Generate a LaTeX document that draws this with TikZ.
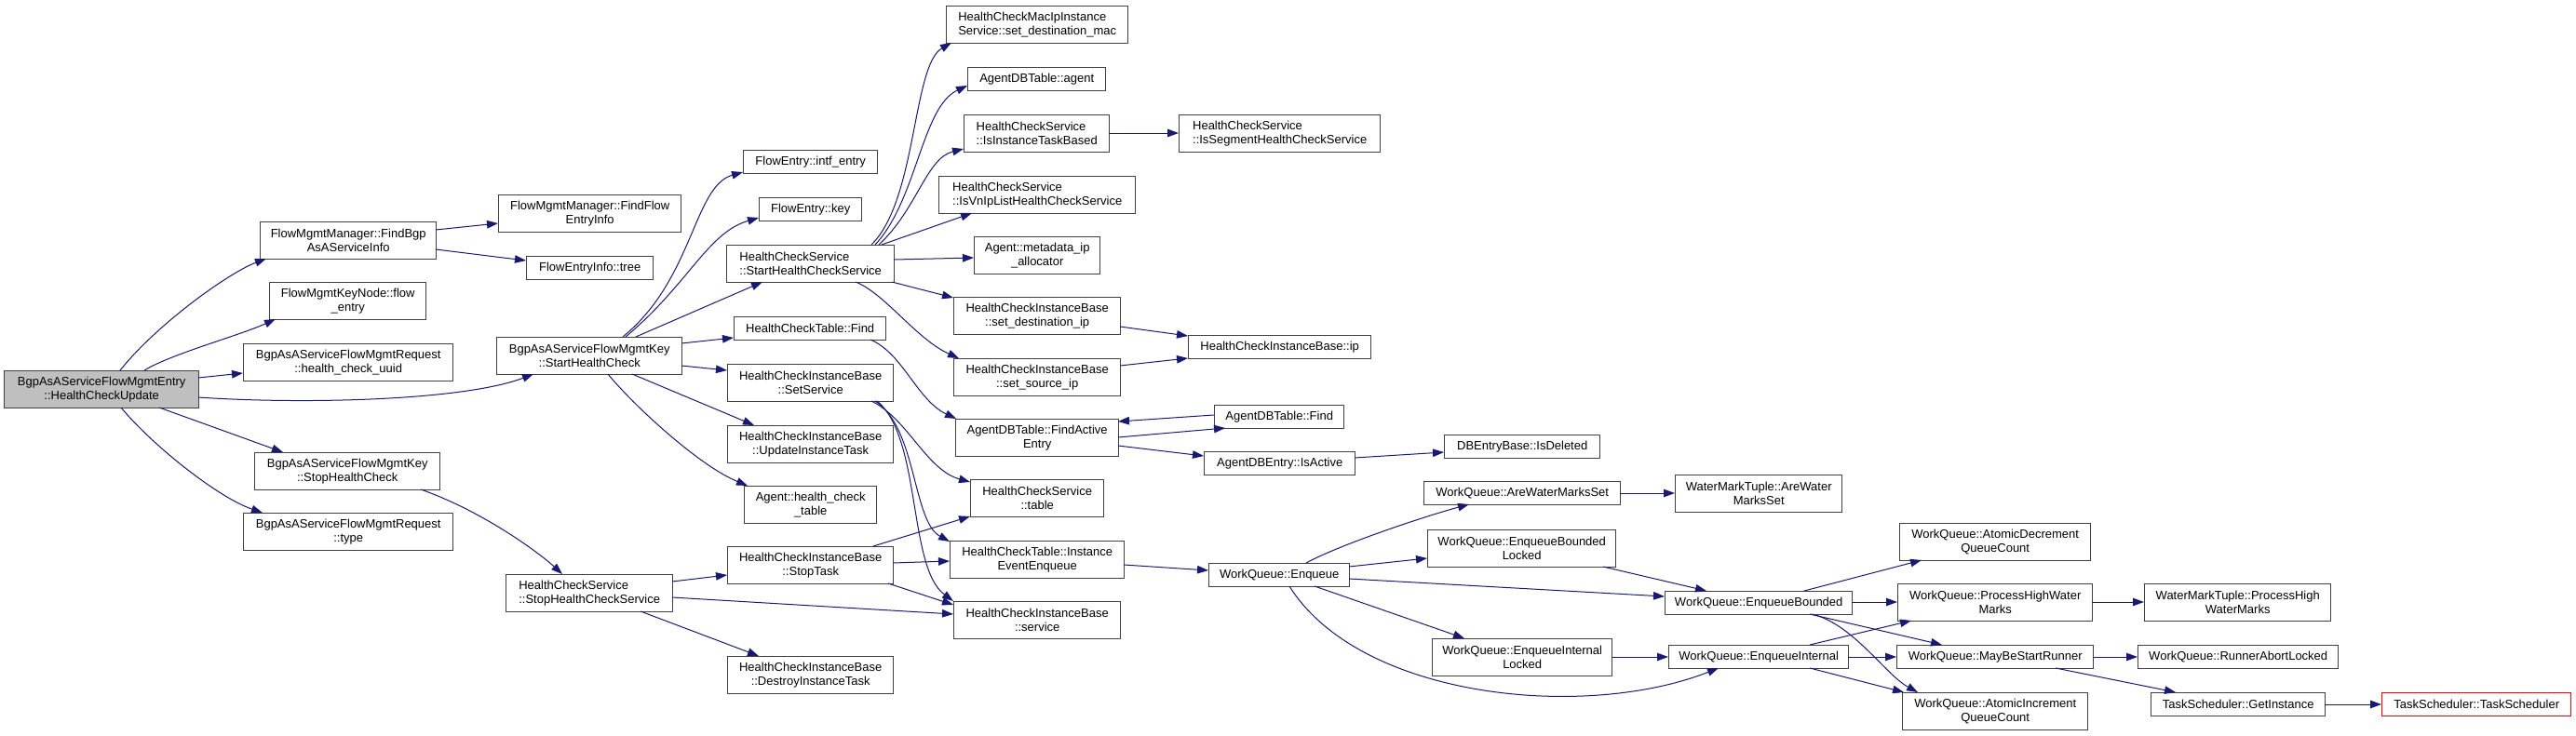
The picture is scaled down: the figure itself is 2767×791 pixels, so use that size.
\documentclass[tikz,border=0pt]{standalone}
\usepackage{fontspec}
\setmainfont{Liberation Sans}
\usetikzlibrary{arrows.meta,calc}
\definecolor{edgecol}{HTML}{191970}
\definecolor{nodeborder}{HTML}{404040}
\definecolor{rootfill}{HTML}{BFBFBF}
\begin{document}
\begin{tikzpicture}[x=1bp,y=-1bp,
  box/.style={draw=nodeborder, line width=1.4bp, fill=white, inner sep=0pt, anchor=north west, align=center, font=\fontsize{13bp}{15bp}\selectfont},
  lbox/.style={box, align=left},
  wh/.style 2 args={minimum width=#1bp, minimum height=#2bp},
  conn/.style={draw=edgecol, line width=1bp, -{Triangle[length=12bp,width=8.5bp]}}]
\fill[white] (0,0) rectangle (2767,791);
\useasboundingbox (0,0) rectangle (2767,791);
% nodes
\node[box,wh={209}{40},fill=rootfill] (root) at (4,398) {BgpAsAServiceFlowMgmtEntry\\::HealthCheckUpdate};
\node[box,wh={189}{40}] (fbgp) at (279,238) {FlowMgmtManager::FindBgp\\AsAServiceInfo};
\node[box,wh={168}{40}] (fke) at (289,303) {FlowMgmtKeyNode::flow\\\_entry};
\node[box,wh={225}{40}] (uuid) at (261,369) {BgpAsAServiceFlowMgmtRequest\\::health\_check\_uuid};
\node[box,wh={199}{40}] (shcstop) at (273,486) {BgpAsAServiceFlowMgmtKey\\::StopHealthCheck};
\node[box,wh={225}{40}] (rtype) at (261,551) {BgpAsAServiceFlowMgmtRequest\\::type};
\node[box,wh={196}{40}] (ffei) at (535,209) {FlowMgmtManager::FindFlow\\EntryInfo};
\node[box,wh={136}{25}] (tree) at (565,275) {FlowEntryInfo::tree};
\node[box,wh={199}{40}] (shc) at (533,362) {BgpAsAServiceFlowMgmtKey\\::StartHealthCheck};
\node[lbox,wh={179}{40}] (stopsvc) at (543,617) {HealthCheckService\\::StopHealthCheckService};
\node[box,wh={144}{25}] (intf) at (798,161) {FlowEntry::intf\_entry};
\node[box,wh={110}{25}] (fkey) at (815,212) {FlowEntry::key};
\node[lbox,wh={180}{40}] (startsvc) at (780,263) {HealthCheckService\\::StartHealthCheckService};
\node[box,wh={163}{25}] (hctfind) at (788,340) {HealthCheckTable::Find};
\node[box,wh={178}{40}] (setsvc) at (781,391) {HealthCheckInstanceBase\\::SetService};
\node[box,wh={178}{40}] (updtask) at (781,457) {HealthCheckInstanceBase\\::UpdateInstanceTask};
\node[box,wh={142}{40}] (agenthct) at (799,522) {Agent::health\_check\\\_table};
\node[box,wh={178}{40}] (stoptask) at (781,587) {HealthCheckInstanceBase\\::StopTask};
\node[box,wh={178}{40}] (destroy) at (781,705) {HealthCheckInstanceBase\\::DestroyInstanceTask};
\node[lbox,wh={195}{40}] (macip) at (1016,6) {HealthCheckMacIpInstance\\Service::set\_destination\_mac};
\node[box,wh={148}{25}] (agent) at (1039,72) {AgentDBTable::agent};
\node[lbox,wh={156}{40}] (isinst) at (1035,123) {HealthCheckService\\::IsInstanceTaskBased};
\node[lbox,wh={211}{40}] (isvnip) at (1008,189) {HealthCheckService\\::IsVnIpListHealthCheckService};
\node[box,wh={135}{40}] (metaip) at (1046,254) {Agent::metadata\_ip\\\_allocator};
\node[box,wh={179}{40}] (setdst) at (1024,319) {HealthCheckInstanceBase\\::set\_destination\_ip};
\node[box,wh={179}{40}] (setsrc) at (1024,385) {HealthCheckInstanceBase\\::set\_source\_ip};
\node[box,wh={175}{40}] (findact) at (1026,450) {AgentDBTable::FindActive\\Entry};
\node[box,wh={143}{40}] (hcstable) at (1042,515) {HealthCheckService\\::table};
\node[box,wh={187}{40}] (iee) at (1020,581) {HealthCheckTable::Instance\\EventEnqueue};
\node[box,wh={179}{40}] (service) at (1024,646) {HealthCheckInstanceBase\\::service};
\node[lbox,wh={216}{40}] (isseg) at (1266,123) {HealthCheckService\\::IsSegmentHealthCheckService};
\node[box,wh={196}{25}] (ip) at (1276,360) {HealthCheckInstanceBase::ip};
\node[box,wh={139}{25}] (adbfind) at (1304,435) {AgentDBTable::Find};
\node[box,wh={162}{25}] (isactive) at (1293,485) {AgentDBEntry::IsActive};
\node[box,wh={151}{25}] (enqueue) at (1298,605) {WorkQueue::Enqueue};
\node[box,wh={167}{25}] (isdel) at (1551,467) {DBEntryBase::IsDeleted};
\node[box,wh={211}{25}] (arewms) at (1529,517) {WorkQueue::AreWaterMarksSet};
\node[box,wh={202}{40}] (ebl) at (1533,569) {WorkQueue::EnqueueBounded\\Locked};
\node[box,wh={193}{40}] (eil) at (1538,686) {WorkQueue::EnqueueInternal\\Locked};
\node[box,wh={179}{40}] (wmtare) at (1799,510) {WaterMarkTuple::AreWater\\MarksSet};
\node[box,wh={201}{25}] (eb) at (1788,635) {WorkQueue::EnqueueBounded};
\node[box,wh={193}{25}] (ei) at (1792,693) {WorkQueue::EnqueueInternal};
\node[box,wh={205}{40}] (adec) at (2040,562) {WorkQueue::AtomicDecrement\\QueueCount};
\node[box,wh={209}{40}] (phwm) at (2038,627) {WorkQueue::ProcessHighWater\\Marks};
\node[box,wh={211}{25}] (maybe) at (2037,693) {WorkQueue::MayBeStartRunner};
\node[box,wh={199}{40}] (ainc) at (2043,744) {WorkQueue::AtomicIncrement\\QueueCount};
\node[box,wh={200}{40}] (wmtphw) at (2303,627) {WaterMarkTuple::ProcessHigh\\WaterMarks};
\node[box,wh={215}{25}] (runabort) at (2296,693) {WorkQueue::RunnerAbortLocked};
\node[box,wh={187}{25}] (getinst) at (2310,744) {TaskScheduler::GetInstance};
\node[box,wh={203}{25},draw=red] (ts) at (2558,744) {TaskScheduler::TaskScheduler};
% root
\draw[conn] ($(root.north west)+(125,0)$) .. controls +(40,-50) and +(-40,15) .. ($(fbgp.north west)+(7,40)$);
\draw[conn] ($(root.north west)+(151,0)$) .. controls +(30,-18) and +(-40,18) .. ($(fke.north west)+(7,40)$);
\draw[conn] ($(root.north west)+(209,8)$) -- ($(uuid.north west)+(0,32)$);
\draw[conn] ($(root.north west)+(209,29)$) .. controls +(117,8) and +(-73,28) .. ($(shc.north west)+(40,40)$);
\draw[conn] ($(root.north west)+(167,40)$) -- ($(shcstop.north west)+(31,0)$);
\draw[conn] ($(root.north west)+(126,40)$) .. controls +(35,42) and +(-47,-16) .. ($(rtype.north west)+(21,0)$);
% fbgp
\draw[conn] ($(fbgp.north west)+(189,9)$) -- ($(ffei.north west)+(0,31)$);
\draw[conn] ($(fbgp.north west)+(189,30)$) -- ($(tree.north west)+(0,5)$);
% shc
\draw[conn] ($(shc.north west)+(136,0)$) .. controls +(76,-62) and +(-53,15) .. ($(intf.north west)+(0,24)$);
\draw[conn] ($(shc.north west)+(139,0)$) .. controls +(68,-57) and +(-55,16) .. ($(fkey.north west)+(0,22)$);
\draw[conn] ($(shc.north west)+(150,0)$) -- ($(startsvc.north west)+(39,40)$);
\draw[conn] ($(shc.north west)+(199,7)$) -- ($(hctfind.north west)+(0,23)$);
\draw[conn] ($(shc.north west)+(199,31)$) -- ($(setsvc.north west)+(0,7)$);
\draw[conn] ($(shc.north west)+(146,40)$) -- ($(updtask.north west)+(29,0)$);
\draw[conn] ($(shc.north west)+(120,40)$) .. controls +(27,33) and +(-53,-22) .. ($(agenthct.north west)+(4,0)$);
% shcstop
\draw[conn] ($(shcstop.north west)+(179,40)$) .. controls +(68,24) and +(-24,-22) .. ($(stopsvc.north west)+(61,0)$);
% startsvc
\draw[conn] ($(startsvc.north west)+(156,0)$) .. controls +(49,-48) and +(-42,24) .. ($(macip.north west)+(6,40)$);
\draw[conn] ($(startsvc.north west)+(160,0)$) .. controls +(45,-48) and +(-49,23) .. ($(agent.north west)+(0,20)$);
\draw[conn] ($(startsvc.north west)+(164,0)$) .. controls +(41,-38) and +(-40,10) .. ($(isinst.north west)+(0,37)$);
\draw[conn] ($(startsvc.north west)+(167,0)$) -- ($(isvnip.north west)+(36,40)$);
\draw[conn] ($(startsvc.north west)+(180,16)$) -- ($(metaip.north west)+(0,23)$);
\draw[conn] ($(startsvc.north west)+(178,40)$) -- ($(setdst.north west)+(0,1)$);
\draw[conn] ($(startsvc.north west)+(139,40)$) .. controls +(31,12) and +(-45,-20) .. ($(setsrc.north west)+(6,0)$);
% hctfind
\draw[conn] ($(hctfind.north west)+(147,25)$) .. controls +(35,15) and +(-42,-20) .. ($(findact.north west)+(1,0)$);
% setsvc
\draw[conn] ($(setsvc.north west)+(155,40)$) .. controls +(39,19) and +(-47,-13) .. ($(hcstable.north west)+(0,3)$);
\draw[conn] ($(setsvc.north west)+(159,40)$) .. controls +(45,29) and +(-40,-22) .. ($(iee.north west)+(0,1)$);
\draw[conn] ($(setsvc.north west)+(161,40)$) .. controls +(48,39) and +(-49,-36) .. ($(service.north west)+(0,0)$);
% stoptask
\draw[conn] ($(stoptask.north west)+(157,0)$) -- ($(hcstable.north west)+(0,40)$);
\draw[conn] ($(stoptask.north west)+(178,18)$) -- ($(iee.north west)+(0,22)$);
\draw[conn] ($(stoptask.north west)+(173,40)$) -- ($(service.north west)+(0,4)$);
% stopsvc
\draw[conn] ($(stopsvc.north west)+(179,8)$) -- ($(stoptask.north west)+(0,31)$);
\draw[conn] ($(stopsvc.north west)+(179,25)$) -- ($(service.north west)+(0,14)$);
\draw[conn] ($(stopsvc.north west)+(145,40)$) -- ($(destroy.north west)+(34,0)$);
% column 4
\draw[conn] ($(isinst.north west)+(156,20)$) -- ($(isseg.north west)+(0,20)$);
\draw[conn] ($(setdst.north west)+(179,32)$) -- ($(ip.north west)+(0,1)$);
\draw[conn] ($(setsrc.north west)+(179,8)$) -- ($(ip.north west)+(0,25)$);
\draw[conn] ($(findact.north west)+(175,20)$) -- ($(adbfind.north west)+(12,25)$);
\draw[conn] ($(adbfind.north west)+(0,11)$) -- ($(findact.north west)+(175,3)$);
\draw[conn] ($(findact.north west)+(175,29)$) -- ($(isactive.north west)+(0,5)$);
\draw[conn] ($(isactive.north west)+(162,7)$) -- ($(isdel.north west)+(0,19)$);
\draw[conn] ($(iee.north west)+(187,26)$) -- ($(enqueue.north west)+(0,8)$);
% enqueue
\draw[conn] ($(enqueue.north west)+(105,0)$) .. controls +(37,-20) and +(-48,13) .. ($(arewms.north west)+(49,25)$);
\draw[conn] ($(enqueue.north west)+(151,4)$) -- ($(ebl.north west)+(0,31)$);
\draw[conn] ($(enqueue.north west)+(151,17)$) -- ($(eb.north west)+(0,6)$);
\draw[conn] ($(enqueue.north west)+(114,25)$) -- ($(eil.north west)+(35,0)$);
\draw[conn] ($(enqueue.north west)+(87,25)$) .. controls +(75,120) and +(-146,57) .. ($(ei.north west)+(54,25)$);
% column 6
\draw[conn] ($(arewms.north west)+(211,13)$) -- ($(wmtare.north west)+(0,20)$);
\draw[conn] ($(ebl.north west)+(189,40)$) -- ($(eb.north west)+(45,0)$);
\draw[conn] ($(eil.north west)+(193,20)$) -- ($(ei.north west)+(0,13)$);
% eb
\draw[conn] ($(eb.north west)+(150,0)$) -- ($(adec.north west)+(24,40)$);
\draw[conn] ($(eb.north west)+(201,12)$) -- ($(phwm.north west)+(0,20)$);
\draw[conn] ($(eb.north west)+(156,25)$) -- ($(maybe.north west)+(49,0)$);
\draw[conn] ($(eb.north west)+(158,25)$) .. controls +(44,10) and +(-35,-19) .. ($(ainc.north west)+(17,0)$);
% ei
\draw[conn] ($(ei.north west)+(152,0)$) -- ($(phwm.north west)+(15,40)$);
\draw[conn] ($(ei.north west)+(193,13)$) -- ($(maybe.north west)+(0,13)$);
\draw[conn] ($(ei.north west)+(152,25)$) -- ($(ainc.north west)+(2,0)$);
% right
\draw[conn] ($(phwm.north west)+(209,20)$) -- ($(wmtphw.north west)+(0,20)$);
\draw[conn] ($(maybe.north west)+(211,13)$) -- ($(runabort.north west)+(0,13)$);
\draw[conn] ($(maybe.north west)+(171,25)$) -- ($(getinst.north west)+(27,0)$);
\draw[conn] ($(getinst.north west)+(187,13)$) -- ($(ts.north west)+(0,13)$);
\end{tikzpicture}
\end{document}
